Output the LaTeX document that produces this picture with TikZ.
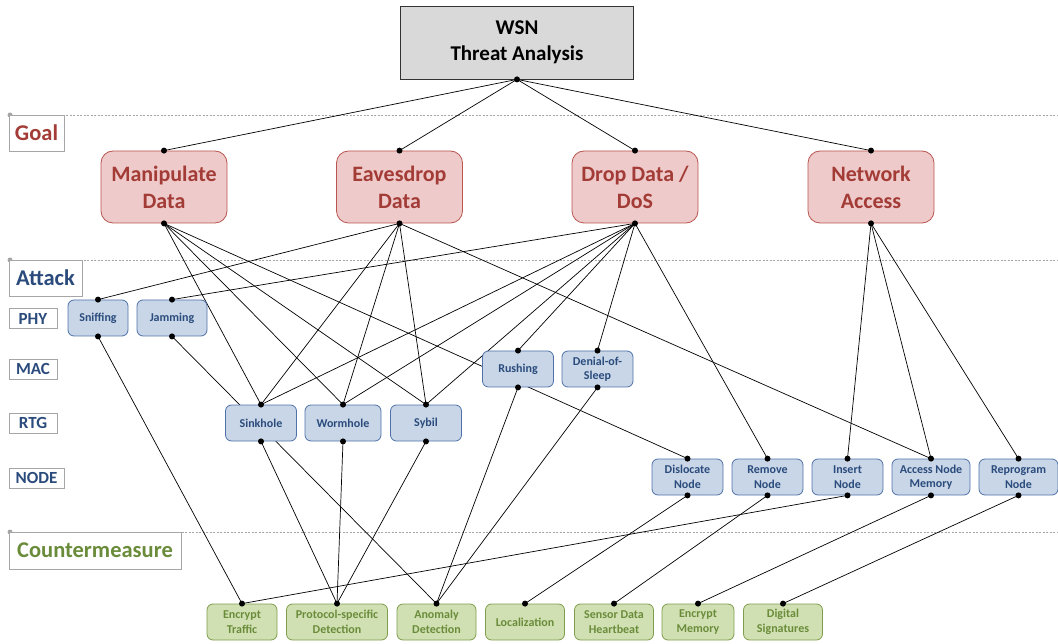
\documentclass[tikz,border=0pt]{standalone}
\usepackage{fontspec}
\setmainfont{Carlito}
\usepackage{tikz}
\usetikzlibrary{backgrounds}
\definecolor{tm-root}{HTML}{D9D9D9}
\definecolor{tm-goal}{HTML}{A33C36}
\definecolor{tm-goalfill}{HTML}{EECACA}
\definecolor{tm-goalline}{HTML}{B9554F}
\definecolor{tm-attack}{HTML}{2A4B7C}
\definecolor{tm-attackfill}{HTML}{C8D6E7}
\definecolor{tm-attackline}{HTML}{4F72A8}
\definecolor{tm-counter}{HTML}{6A8C3A}
\definecolor{tm-counterfill}{HTML}{D0E0B2}
\definecolor{tm-counterline}{HTML}{7F9D4C}
\definecolor{tm-muted}{HTML}{A6A6A6}

\begin{document}
\begin{tikzpicture}[x=1pt, y=-1pt,
    root/.style={draw=black!80, fill=tm-root, line width=0.8pt, minimum width=233pt, minimum height=73pt, align=center, font=\fontsize{21}{26}\selectfont\bfseries},
    goal/.style={draw=tm-goalline, fill=tm-goalfill, rounded corners=12pt, line width=0.8pt, minimum width=126pt, minimum height=72pt, align=center, text=tm-goal, font=\fontsize{22}{27}\selectfont\bfseries},
    attack/.style={draw=tm-attackline, fill=tm-attackfill, rounded corners=6pt, line width=0.8pt, minimum height=36pt, inner sep=1pt, align=center, text=tm-attack, font=\fontsize{12}{14.5}\selectfont\bfseries},
    counter/.style={draw=tm-counterline, fill=tm-counterfill, rounded corners=6pt, line width=0.8pt, minimum height=36pt, inner sep=1pt, align=center, text=tm-counter, font=\fontsize{12}{15}\selectfont\bfseries},
    tier/.style={draw=tm-muted, fill=white, line width=0.8pt, inner sep=0pt, font=\fontsize{22.5}{27}\selectfont\bfseries},
    subtier/.style={tier, text=tm-attack, minimum height=20pt, font=\fontsize{17}{20}\selectfont\bfseries},
    sep/.style={tm-muted, line width=0.8pt, dash pattern=on 2pt off 1.5pt},
    link/.style={black, line width=0.7pt}]

    \useasboundingbox (0,0) rectangle (1058,644);

    % --- raiz ---
    \node[root] (wsn) at (517,42.5) {WSN\\Threat Analysis};

    % --- objetivos ---
    \node[goal] (mani)  at (164,187)   {Manipulate\\Data};
    \node[goal] (eaves) at (399.5,187) {Eavesdrop\\Data};
    \node[goal] (dos)   at (635,187)   {Drop Data /\\DoS};
    \node[goal] (net)   at (871,187)   {Network\\Access};

    % --- camadas (legenda a esquerda) ---
    \node[tier, text=tm-goal, minimum width=55pt, minimum height=36pt] (lgoal) at (36.5,133) {Goal};
    \node[tier, text=tm-attack, minimum width=73pt, minimum height=36pt] (lattack) at (45.5,278) {Attack};
    \node[subtier, minimum width=48pt] (lphy)  at (33,318.5) {PHY};
    \node[subtier, minimum width=48pt] (lmac)  at (33,369)   {MAC};
    \node[subtier, minimum width=48pt] (lrtg)  at (33,423)   {RTG};
    \node[subtier, minimum width=55pt] (lnode) at (36.5,478) {NODE};
    \node[tier, text=tm-counter, minimum width=172pt, minimum height=37pt] (lcounter) at (95,550.5) {Countermeasure};

    % --- ataques ---
    \node[attack, minimum width=60pt] (sniff)  at (98,318)    {Sniffing};
    \node[attack, minimum width=70pt] (jam)    at (172,318)   {Jamming};
    \node[attack, minimum width=71pt] (rush)   at (518,369)   {Rushing};
    \node[attack, minimum width=71pt] (sleep)  at (597.5,369) {Denial-of-\\Sleep};
    \node[attack, minimum width=71pt] (sink)   at (261,423)   {Sinkhole};
    \node[attack, minimum width=76pt] (worm)   at (343,423)   {Wormhole};
    \node[attack, minimum width=71pt] (sybil)  at (426,423)   {Sybil};
    \node[attack, minimum width=71pt] (disloc) at (687.5,477) {Dislocate\\Node};
    \node[attack, minimum width=71pt] (remove) at (767.5,477) {Remove\\Node};
    \node[attack, minimum width=71pt] (insert) at (847.5,477) {Insert\\Node};
    \node[attack, minimum width=78pt] (access) at (931,477)   {Access Node\\Memory};
    \node[attack, minimum width=79pt] (reprog) at (1018.5,477){Reprogram\\Node};

    % --- contramedidas ---
    \node[counter, minimum width=70pt]  (enctraf)   at (242,622)   {Encrypt\\Traffic};
    \node[counter, minimum width=101pt] (protocol)  at (337,622)   {Protocol-specific\\Detection};
    \node[counter, minimum width=79pt]  (anomaly)   at (436.5,622) {Anomaly\\Detection};
    \node[counter, minimum width=79pt]  (localiz)   at (525,622)   {Localization};
    \node[counter, minimum width=79pt]  (heartbeat) at (614,622)   {Sensor Data\\Heartbeat};
    \node[counter, minimum width=72pt]  (encmem)    at (698,622)   {Encrypt\\Memory};
    \node[counter, minimum width=79pt]  (digsig)    at (783,622)   {Digital\\Signatures};

    % --- separadores e ligacoes (atras das caixas) ---
    \begin{scope}[on background layer]
        \foreach \y in {115,260,532} {
            \draw[sep] (10,\y) -- (1058,\y);
            \fill[tm-muted] (10,\y) circle (2.5pt);
        }
        \foreach \g in {mani,eaves,dos,net} \draw[link] (wsn.south) -- (\g.north);
        \foreach \a in {sink,worm,sybil,disloc} \draw[link] (mani.south) -- (\a.north);
        \foreach \a in {sniff,sink,worm,sybil,access} \draw[link] (eaves.south) -- (\a.north);
        \foreach \a in {jam,sink,worm,sybil,rush,sleep,remove} \draw[link] (dos.south) -- (\a.north);
        \foreach \a in {insert,access,reprog} \draw[link] (net.south) -- (\a.north);
        \foreach \a/\c in {sniff/enctraf, jam/anomaly, sink/protocol, worm/protocol, sybil/protocol,
                           rush/anomaly, sleep/anomaly, disloc/localiz, remove/heartbeat,
                           insert/enctraf, access/encmem, reprog/digsig}
            \draw[link] (\a.south) -- (\c.north);
    \end{scope}

    % --- pontos de conexao ---
    \foreach \p in {wsn.south, mani.north, eaves.north, dos.north, net.north,
                    mani.south, eaves.south, dos.south, net.south}
        \fill (\p) circle (3pt);
    \foreach \n in {sniff,jam,rush,sleep,sink,worm,sybil,disloc,remove,insert,access,reprog} {
        \fill (\n.north) circle (3pt);
        \fill (\n.south) circle (3pt);
    }
    \foreach \n in {enctraf,protocol,anomaly,localiz,heartbeat,encmem,digsig}
        \fill (\n.north) circle (3pt);

\end{tikzpicture}
\end{document}
